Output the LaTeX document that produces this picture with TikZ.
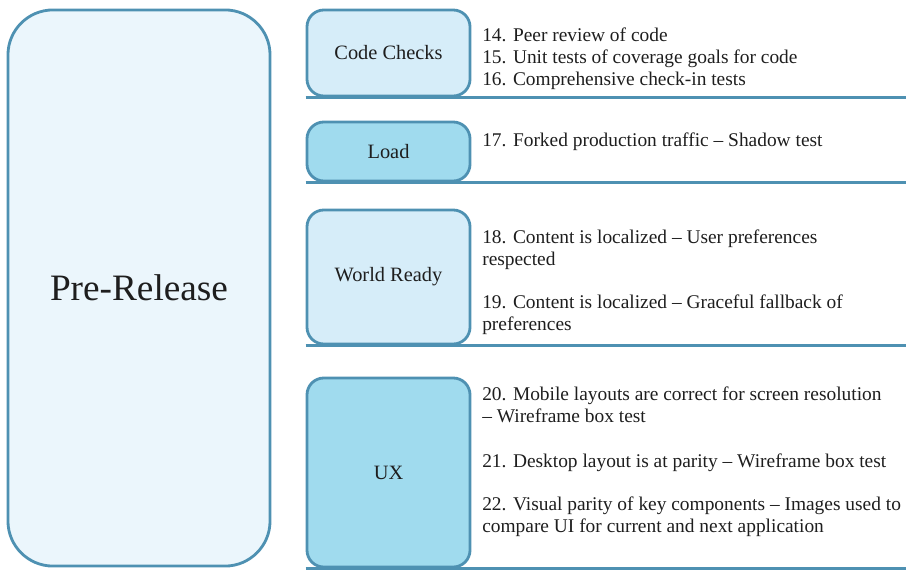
\documentclass[tikz,border=0pt]{standalone}
\usepackage{fontspec}
\setmainfont{Liberation Serif}
\usetikzlibrary{positioning}

\definecolor{edgeblue}{RGB}{78,145,178}
\definecolor{paleblue}{RGB}{235,246,252}
\definecolor{lightblue}{RGB}{214,237,249}
\definecolor{midblue}{RGB}{160,219,238}
\definecolor{inkgray}{RGB}{30,30,30}

\tikzset{
  phase/.style={draw=edgeblue, line width=2pt, fill=paleblue, rounded corners=32pt,
    minimum width=6.55cm, minimum height=13.9cm, text=inkgray,
    font=\fontsize{26.5}{30}\selectfont},
  stage/.style={draw=edgeblue, line width=2pt, rounded corners=12pt,
    minimum width=4.075cm, text=inkgray, font=\fontsize{14.5}{17}\selectfont},
  item/.style={anchor=base west, align=left, inner sep=0pt, text=inkgray,
    font=\fontsize{13.8}{15.4}\selectfont},
  rule/.style={draw=edgeblue, line width=2.3pt}
}

\begin{document}
\begin{tikzpicture}[x=0.025cm, y=-0.025cm]
        \useasboundingbox (0,0) rectangle (906,572);

        % Phase box on the left
        \node[phase] (pre) at (139,288) {Pre-Release};

        % Stage boxes
        \node[stage, fill=lightblue, minimum height=2.15cm] (code) at (388.5,53) {Code Checks};
        \node[stage, fill=midblue, minimum height=1.475cm] (load) at (388.5,151.5) {Load};
        \node[stage, fill=lightblue, minimum height=3.35cm] (world) at (388.5,277) {World Ready};
        \node[stage, fill=midblue, minimum height=4.725cm] (ux) at (388.5,472.5) {UX};

        % Right edge for the rules
        \coordinate (edge) at (906,0);

        % Rules under each stage
        \draw[rule] (code.south west) -- (code.south west -| edge);
        \draw[rule] (load.south west) -- (load.south west -| edge);
        \draw[rule] (world.south west) -- (world.south west -| edge);
        \draw[rule] (ux.south west) -- (ux.south west -| edge);

        % Test items (base = baseline of the last line)
        \node[item] (t14) at (482,85) {14. Peer review of code\\15. Unit tests of coverage goals for code\\16. Comprehensive check-in tests};
        \node[item] (t17) at (482,146) {17. Forked production traffic – Shadow test};
        \node[item] (t18) at (482,265) {18. Content is localized – User preferences\\respected};
        \node[item] (t19) at (482,330) {19. Content is localized – Graceful fallback of\\preferences};
        \node[item] (t20) at (482,422) {20. Mobile layouts are correct for screen resolution\\– Wireframe box test};
        \node[item] (t21) at (482,467) {21. Desktop layout is at parity – Wireframe box test};
        \node[item] (t22) at (482,532) {22. Visual parity of key components – Images used to\\compare UI for current and next application};
\end{tikzpicture}
\end{document}
